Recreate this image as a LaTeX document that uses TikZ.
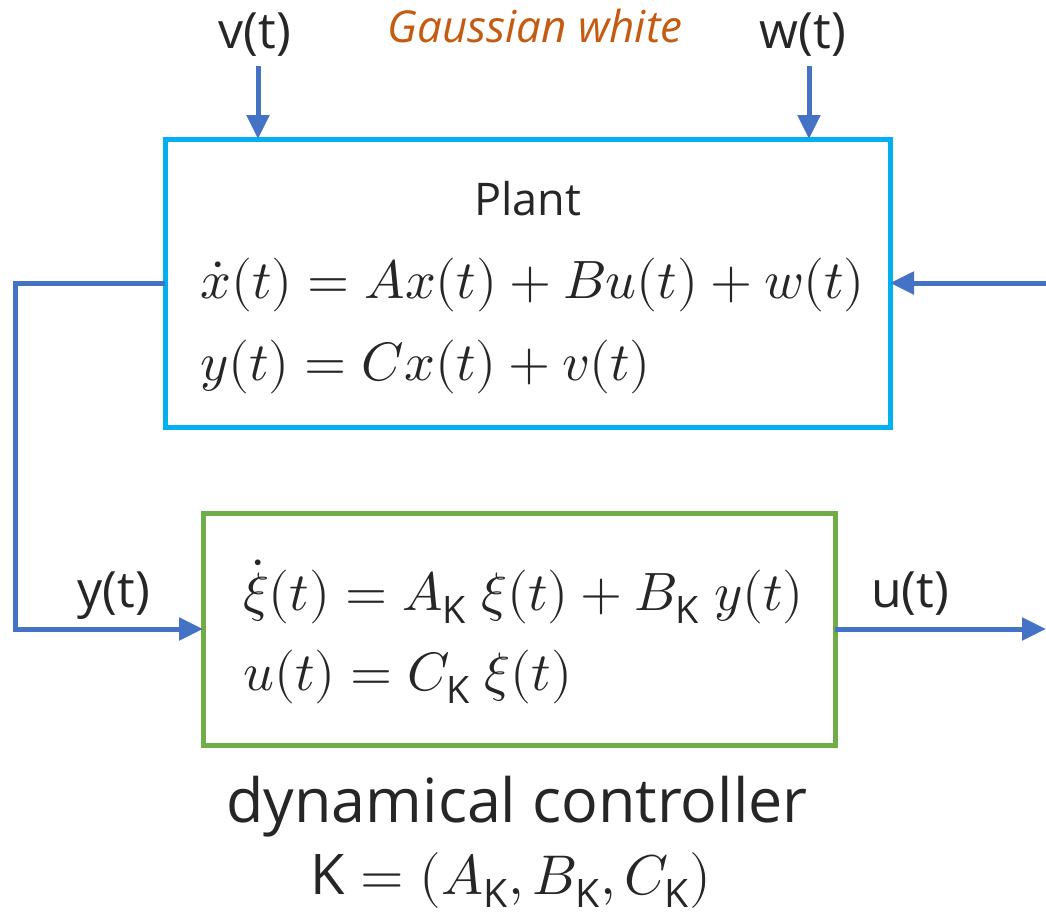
\documentclass[tikz,border=0pt]{standalone}
\usepackage{amsmath}
\usepackage{fontspec}
\usepackage{unicode-math}
\setmainfont{Open Sans}
\setmathfont{Latin Modern Math}
\usetikzlibrary{arrows.meta}
\definecolor{plantc}{HTML}{00B0F0}
\definecolor{ctrlc}{HTML}{70AD47}
\definecolor{arrc}{HTML}{4472C4}
\definecolor{gauss}{HTML}{C55A11}
\definecolor{txt}{HTML}{262626}
\newcommand{\Kk}{\text{K}}
\begin{document}
\begin{tikzpicture}[x=1pt,y=-1pt,
  blockbox/.style={line width=5pt, outer sep=0pt, inner sep=0pt, anchor=north west},
  arr/.style={arrc, line width=5pt, -{Triangle[length=24pt,width=22pt]}},
  lbl/.style={txt, anchor=base, inner sep=0pt, font=\fontsize{50}{56}\selectfont},
  eqn/.style={txt, anchor=base west, inner sep=0pt, font=\fontsize{54}{60}\selectfont}]
\useasboundingbox (0,0) rectangle (1046,916);
\node[blockbox, draw=plantc, minimum width=725pt, minimum height=288pt] (plant) at (165,139) {};
\node[blockbox, draw=ctrlc, minimum width=632pt, minimum height=232pt] (ctrl) at (203,513) {};
% labels
\node[lbl] (vlab) at (255,48) {v(t)};
\node[lbl] (wlab) at (803,48) {w(t)};
\node[lbl, gauss, font=\fontsize{44}{50}\selectfont\itshape] (glab) at (535,42) {Gaussian white};
\node[lbl, font=\fontsize{45}{50}\selectfont] (ptitle) at (528,215) {Plant};
\node[eqn] (peq1) at (200,298) {$\dot{x}(t) = Ax(t) + Bu(t) + w(t)$};
\node[eqn] (peq2) at (200,380) {$y(t) = Cx(t) + v(t)$};
\node[eqn] (ceq1) at (243,610) {$\dot{\xi}(t) = A_{\Kk}\;\xi(t) + B_{\Kk}\;y(t)$};
\node[eqn] (ceq2) at (243,690) {$u(t) = C_{\Kk}\;\xi(t)$};
\node[lbl] (ylab) at (114,607) {y(t)};
\node[lbl] (ulab) at (910,607) {u(t)};
\node[lbl, font=\fontsize{61}{68}\selectfont] (dc) at (517,822) {dynamical controller};
\node[lbl, font=\fontsize{56}{62}\selectfont] (kdef) at (511,894) {$\Kk = (A_{\Kk}, B_{\Kk}, C_{\Kk})$};
% connectors
\coordinate (vtop) at (258,66);
\coordinate (wtop) at (809,66);
\coordinate (rin) at (1046,283);
\coordinate (uend) at (1046,629);
\draw[arr] (vtop) -- (vtop |- plant.north);
\draw[arr] (wtop) -- (wtop |- plant.north);
\draw[arr] (rin) -- (plant.east);
\draw[arr] (plant.west) -- (15,283) |- (ctrl.west);
\draw[arr] (ctrl.east) -- (uend);
\end{tikzpicture}
\end{document}
